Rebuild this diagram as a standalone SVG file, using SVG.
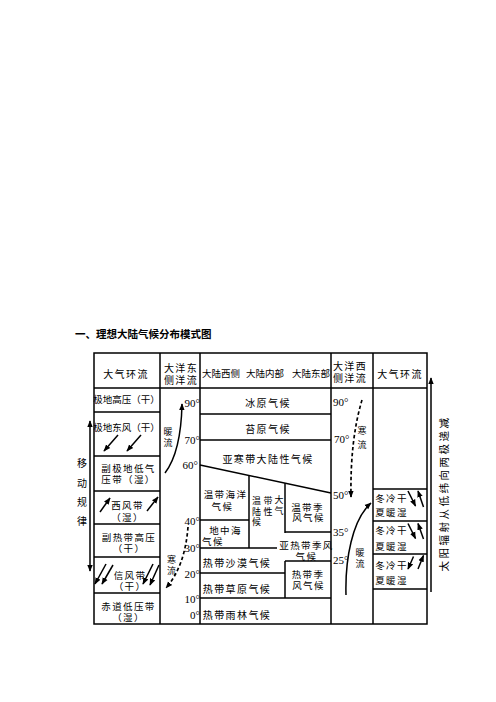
<svg xmlns="http://www.w3.org/2000/svg" width="496" height="702" viewBox="0 0 496 702">
<defs>
<style>
.t{font-family:'Noto Sans CJK SC','Noto Sans CJK JP',sans-serif;font-size:10px;fill:#000;text-anchor:middle;dominant-baseline:central}
.s{letter-spacing:1.4px}
.h{font-size:9.5px}
.v{font-size:9px}
.deg{font-family:'Liberation Serif',serif;font-size:11px;fill:#000;dominant-baseline:central}
.e{text-anchor:end}
.ln{stroke:#000;stroke-width:1.5;fill:none}
.ar{stroke:#000;stroke-width:1.5;fill:none;marker-end:url(#ah)}
.da{stroke:#000;stroke-width:1.7;fill:none;stroke-dasharray:3.5 2.5;marker-end:url(#ah)}
.title{font-family:'Noto Sans CJK SC',sans-serif;font-size:10.5px;font-weight:bold;fill:#000;dominant-baseline:central}
</style>
<marker id="ah" viewBox="0 0 10 10" refX="9" refY="5" markerWidth="7" markerHeight="7" markerUnits="userSpaceOnUse" orient="auto-start-reverse"><path d="M0,1 L10,5 L0,9 z" fill="#000"/></marker>
</defs>
<rect width="496" height="702" fill="#fff"/>
<text class="title" x="75" y="333">一、理想大陆气候分布模式图</text>

<g id="grid">
<rect class="ln" x="94" y="353" width="333" height="271"/>
<line class="ln" x1="94" y1="388" x2="427" y2="388"/>
<line class="ln" x1="160" y1="353" x2="160" y2="624"/>
<line class="ln" x1="200" y1="353" x2="200" y2="624"/>
<line class="ln" x1="331" y1="353" x2="331" y2="624"/>
<line class="ln" x1="373" y1="353" x2="373" y2="624"/>
</g>

<g id="left-rows">
<line class="ln" x1="94" y1="412" x2="160" y2="412"/>
<line class="ln" x1="94" y1="456" x2="160" y2="456"/>
<line class="ln" x1="94" y1="491" x2="160" y2="491"/>
<line class="ln" x1="94" y1="524" x2="160" y2="524"/>
<line class="ln" x1="94" y1="557" x2="160" y2="557"/>
<line class="ln" x1="94" y1="593" x2="160" y2="593"/>
</g>

<g id="climate-lines">
<line class="ln" x1="200" y1="414" x2="331" y2="414"/>
<line class="ln" x1="200" y1="440" x2="331" y2="440"/>
<line class="ln" x1="200" y1="465" x2="331" y2="493"/>
<line class="ln" x1="249" y1="475.5" x2="249" y2="548"/>
<line class="ln" x1="285" y1="483.2" x2="285" y2="533"/>
<line class="ln" x1="200" y1="520" x2="249" y2="520"/>
<line class="ln" x1="285" y1="532" x2="331" y2="532"/>
<line class="ln" x1="200" y1="548" x2="277" y2="548"/>
<line class="ln" x1="285" y1="561" x2="331" y2="561"/>
<line class="ln" x1="285" y1="561" x2="285" y2="598"/>
<line class="ln" x1="200" y1="573" x2="285" y2="573"/>
<line class="ln" x1="200" y1="598" x2="331" y2="598"/>
</g>

<g id="right-rows">
<line class="ln" x1="373" y1="489" x2="427" y2="489"/>
<line class="ln" x1="373" y1="521" x2="427" y2="521"/>
<line class="ln" x1="373" y1="554" x2="427" y2="554"/>
<line class="ln" x1="373" y1="589" x2="427" y2="589"/>
</g>

<g id="headers">
<text class="t s" x="126" y="373">大气环流</text>
<text class="t s"><tspan x="181" y="366.5">大洋东</tspan><tspan x="181" y="379">侧洋流</tspan></text>
<text class="t h" x="221" y="373">大陆西侧</text>
<text class="t h" x="265" y="373">大陆内部</text>
<text class="t h" x="311" y="373">大陆东部</text>
<text class="t s"><tspan x="350" y="365">大洋西</tspan><tspan x="350" y="377">侧洋流</tspan></text>
<text class="t s" x="400" y="373">大气环流</text>
</g>

<g id="pressure-belts">
<text class="t h" x="126.5" y="398.5">极地高压（干）</text>
<text class="t h" x="126.5" y="427">极地东风（干）</text>
<text class="t s h"><tspan x="128.5" y="468">副极地低气</tspan><tspan x="128.5" y="479">压带（湿）</tspan></text>
<text class="t s h"><tspan x="127.5" y="505">西风带</tspan><tspan x="127.5" y="516.5">（湿）</tspan></text>
<text class="t s h"><tspan x="129" y="536.5">副热带高压</tspan><tspan x="129" y="548">（干）</tspan></text>
<text class="t s h"><tspan x="130" y="575">信风带</tspan><tspan x="130" y="586">（干）</tspan></text>
<text class="t s h"><tspan x="128.5" y="606">赤道低压带</tspan><tspan x="128.5" y="617">（湿）</tspan></text>
</g>

<g id="wind-arrows">
<line class="ar" x1="118" y1="435" x2="104" y2="451"/>
<line class="ar" x1="141" y1="435" x2="127" y2="451"/>
<line class="ar" x1="100" y1="512" x2="110" y2="498"/>
<line class="ar" x1="147" y1="511" x2="158" y2="497"/>
<line class="ar" x1="106" y1="564" x2="95" y2="584"/>
<line class="ar" x1="113" y1="565" x2="102" y2="584"/>
<line class="ar" x1="153" y1="564" x2="143" y2="584"/>
<line class="ar" x1="159" y1="565" x2="150" y2="585"/>
</g>

<g id="climates">
<text class="t s" x="268" y="402">冰原气候</text>
<text class="t s" x="268" y="428">苔原气候</text>
<text class="t s" x="268" y="458.5">亚寒带大陆性气候</text>
<text class="t s h"><tspan x="225.5" y="493.5">温带海洋</tspan><tspan x="222.5" y="506">气候</tspan></text>
<text class="t v"><tspan x="256.5" y="500">温</tspan><tspan x="268" y="500">带</tspan><tspan x="279" y="498.5">大</tspan><tspan x="256.5" y="510.5">陆</tspan><tspan x="268" y="510.5">性</tspan><tspan x="279" y="509.5">气</tspan><tspan x="256.5" y="521">候</tspan></text>
<text class="t s h"><tspan x="307.5" y="506.5">温带季</tspan><tspan x="308.5" y="517">风气候</tspan></text>
<text class="t s h"><tspan x="225.5" y="530">地中海</tspan><tspan x="213" y="540.5">气候</tspan></text>
<text class="t s h"><tspan x="306.5" y="545">亚热带季风</tspan><tspan x="306.5" y="555.5">气候</tspan></text>
<text class="t s" x="237" y="562">热带沙漠气候</text>
<text class="t s h"><tspan x="308" y="573.5">热带季</tspan><tspan x="308.5" y="584.5">风气候</tspan></text>
<text class="t s" x="237" y="588.5">热带草原气候</text>
<text class="t s" x="237" y="614">热带雨林气候</text>
</g>

<g id="latitudes">
<text class="deg e" x="200" y="403">90°</text>
<text class="deg e" x="200" y="440">70°</text>
<text class="deg e" x="198" y="465">60°</text>
<text class="deg e" x="200" y="521">40°</text>
<text class="deg e" x="200" y="548">30°</text>
<text class="deg e" x="200" y="574">20°</text>
<text class="deg e" x="200" y="599">10°</text>
<text class="deg e" x="200" y="615">0°</text>
<text class="deg" x="333" y="402">90°</text>
<text class="deg" x="334" y="439">70°</text>
<text class="deg" x="333" y="495">50°</text>
<text class="deg" x="333" y="531.5">35°</text>
<text class="deg" x="333" y="560">25°</text>
</g>

<g id="currents">
<path class="ar" d="M165,473 Q181,452 182,404"/>
<text class="t v"><tspan x="168" y="430.5">暖</tspan><tspan x="168" y="441.5">流</tspan></text>
<path class="da" d="M188,527 Q185,566 166,588"/>
<text class="t v"><tspan x="171.5" y="558.5">寒</tspan><tspan x="171.5" y="569.5">流</tspan></text>
<path class="da" d="M362,400 Q350,440 351,497"/>
<text class="t v"><tspan x="362" y="430">寒</tspan><tspan x="362" y="444">流</tspan></text>
<path class="ar" d="M346,595 C345,560 352,520 371,503"/>
<text class="t v"><tspan x="360" y="552">暖</tspan><tspan x="360" y="563">流</tspan></text>
</g>

<g id="monsoon">
<text class="t s h"><tspan x="391.5" y="497.5">冬冷干</tspan><tspan x="391.5" y="512">夏暖湿</tspan></text>
<text class="t s h"><tspan x="391.5" y="530">冬冷干</tspan><tspan x="391.5" y="546">夏暖湿</tspan></text>
<text class="t s h"><tspan x="391.5" y="564.5">冬冷干</tspan><tspan x="391.5" y="579.5">夏暖湿</tspan></text>
<line class="ar" x1="408" y1="491" x2="415.5" y2="506"/>
<line class="ar" x1="423.5" y1="507" x2="418" y2="491"/>
<line class="ar" x1="408" y1="523.5" x2="415.5" y2="538.5"/>
<line class="ar" x1="423.5" y1="539" x2="418" y2="523.5"/>
<line class="ar" x1="413.5" y1="556.5" x2="408" y2="569"/>
<line class="ar" x1="418" y1="569" x2="423.5" y2="555.5"/>
</g>

<g id="side">
<line class="ln" x1="90" y1="421" x2="90" y2="571" marker-start="url(#ah)" marker-end="url(#ah)"/>
<text class="t"><tspan x="82" y="461.5">移</tspan><tspan x="82" y="481.5">动</tspan><tspan x="82" y="500.5">规</tspan><tspan x="82" y="520">律</tspan></text>
<line class="ar" x1="431" y1="592" x2="431" y2="378"/>
<text class="t" x="0" y="0" transform="translate(443.5,493.5) rotate(-90)" style="font-size:10.5px;letter-spacing:2.5px">太阳辐射从低纬向两极递减</text>
</g>
</svg>
